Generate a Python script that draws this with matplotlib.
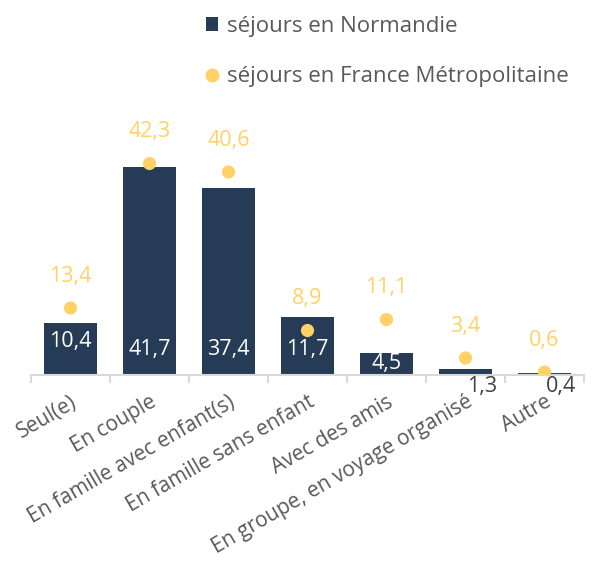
import numpy as np
import matplotlib.pyplot as plt
from matplotlib.patches import Patch
from matplotlib.lines import Line2D

plt.rcParams['font.family'] = ['Open Sans', 'DejaVu Sans']

categories = ["Seul(e)", "En couple", "En famille avec enfant(s)", "En famille sans enfant",
              "Avec des amis", "En groupe, en voyage organisé", "Autre"]
normandie = [10.4, 41.7, 37.4, 11.7, 4.5, 1.3, 0.4]
france = [13.4, 42.3, 40.6, 8.9, 11.1, 3.4, 0.6]

bar_color = "#263b55"
dot_color = "#ffd166"
text_gray = "#595959"

fig = plt.figure(figsize=(5.92, 5.71), dpi=100)
ax = fig.add_axes([31 / 592, 196 / 571, 553 / 592, 275 / 571])

x = np.arange(len(categories))
ax.bar(x, normandie, width=0.67, color=bar_color, zorder=2)
ax.scatter(x, france, s=90, color=dot_color, zorder=3, edgecolors="none")

# labels of the dots
for xi, v in zip(x, france):
    ax.annotate(f"{v:.1f}".replace(".", ","), (xi, v), xytext=(0, 23), textcoords="offset points",
                ha="center", va="center", color=dot_color, fontsize=15.5)

# labels of the bars
for xi, v in zip(x, normandie):
    s = f"{v:.1f}".replace(".", ",")
    if v < 3:
        ax.annotate(s, (xi, 0), xytext=(12, -8), textcoords="offset points",
                    ha="center", va="center", color="#404040", fontsize=15.5, zorder=4)
    else:
        y = 5.2
        if v < 6:
            y = 2.2
        elif v < 11:
            y = 6.8
        ax.text(xi, y, s, ha="center", va="center", color="white", fontsize=15.5, zorder=4)

ax.set_xlim(-0.5, len(categories) - 0.5)
ax.set_ylim(0, 55)
ax.set_yticks([])
for side in ["top", "right", "left"]:
    ax.spines[side].set_visible(False)
ax.spines["bottom"].set_color("#d9d9d9")
ax.spines["bottom"].set_linewidth(1.5)

ax.set_xticks(x)
ax.set_xticklabels(categories, rotation=30, ha="right", rotation_mode="anchor",
                   fontsize=15, color=text_gray)
ax.tick_params(axis="x", which="major", length=0, pad=12)
ax.set_xticks(np.arange(len(categories) + 1) - 0.5, minor=True)
ax.tick_params(axis="x", which="minor", length=6, color="#d9d9d9", width=1.5)

handles = [Patch(facecolor=bar_color, edgecolor="none"),
           Line2D([], [], marker="o", color=dot_color, linestyle="none", markersize=9)]
fig.legend(handles, ["séjours en Normandie", "séjours en France Métropolitaine"],
           loc="upper left", bbox_to_anchor=(186 / 592, 1 + 4 / 571), frameon=False,
           fontsize=16, labelcolor=text_gray, labelspacing=1.3, handlelength=0.55,
           handleheight=0.55, handletextpad=0.4)

fig.savefig("out.png", dpi=100)
